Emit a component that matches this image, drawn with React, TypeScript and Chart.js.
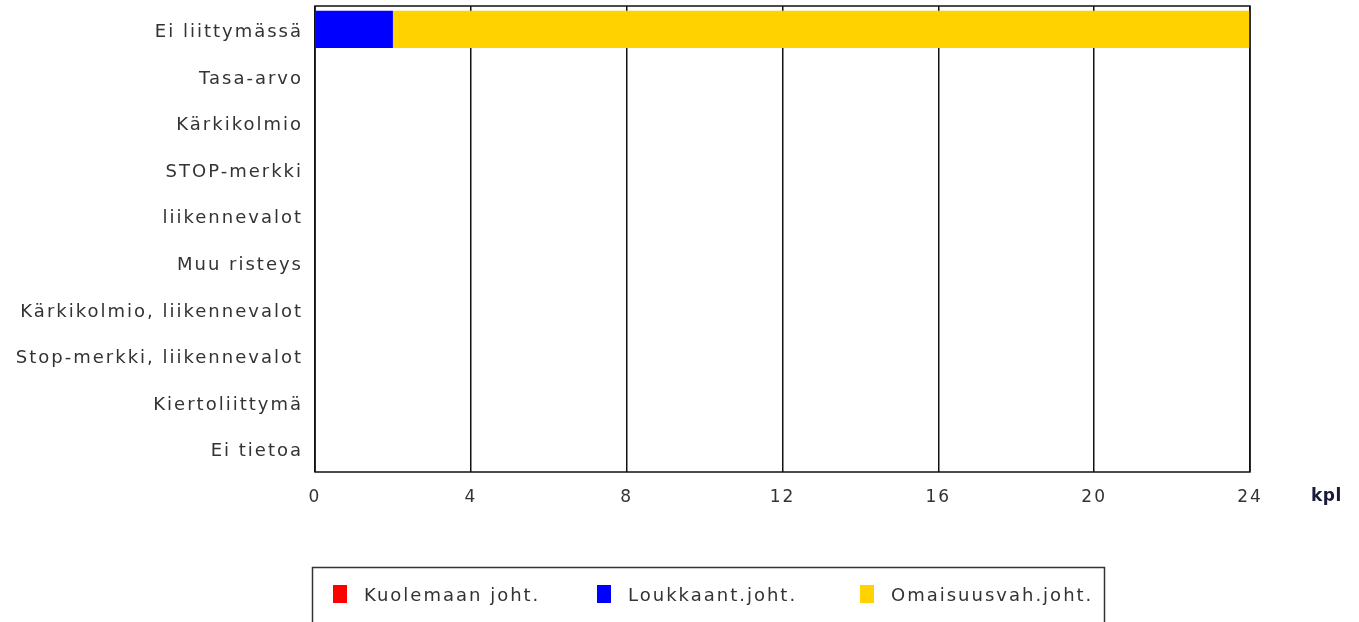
import React, { useEffect, useRef } from "react";
import { Chart, registerables } from "chart.js";

Chart.register(...registerables);

const categories = [
  "Ei liittymässä",
  "Tasa-arvo",
  "Kärkikolmio",
  "STOP-merkki",
  "liikennevalot",
  "Muu risteys",
  "Kärkikolmio, liikennevalot",
  "Stop-merkki, liikennevalot",
  "Kiertoliittymä",
  "Ei tietoa",
];
const kuolemaan = [0, 0, 0, 0, 0, 0, 0, 0, 0, 0];
const loukkaant = [2, 0, 0, 0, 0, 0, 0, 0, 0, 0];
const omaisuus = [22, 0, 0, 0, 0, 0, 0, 0, 0, 0];
const seriesNames = ["Kuolemaan joht.", "Loukkaant.joht.", "Omaisuusvah.joht."];
const seriesColors = ["#ff0000", "#0000ff", "#ffd200"];
const xUnit = "kpl";

const FONT = "'DejaVu Sans', Verdana, sans-serif";
const SPACING = "2px";

export default function App() {
  const ref = useRef<HTMLCanvasElement | null>(null);
  useEffect(() => {
    if (!ref.current) return;
    const framePlugin = {
      id: "frame",
      beforeDraw(chart: any) {
        (chart.ctx as any).letterSpacing = SPACING;
      },
      afterDraw(chart: any) {
        const { ctx, chartArea } = chart;
        ctx.save();
        ctx.strokeStyle = "#111";
        ctx.lineWidth = 1.5;
        ctx.strokeRect(chartArea.left, chartArea.top, chartArea.right - chartArea.left, chartArea.bottom - chartArea.top);
        // unit label
        ctx.fillStyle = "#1a1a3a";
        ctx.font = "bold 17px " + FONT;
        (ctx as any).letterSpacing = "0.5px";
        ctx.textAlign = "left";
        ctx.textBaseline = "middle";
        ctx.fillText(xUnit, 1311, 497);
        (ctx as any).letterSpacing = "2px";
        // legend box
        ctx.strokeStyle = "#333";
        ctx.lineWidth = 1.5;
        ctx.strokeRect(312.5, 567.5, 792, 80);
        const xs = [333, 597, 860];
        ctx.font = "18px " + FONT;
        ctx.textBaseline = "middle";
        seriesNames.forEach((n, i) => {
          ctx.fillStyle = seriesColors[i];
          ctx.fillRect(xs[i], 585, 14, 18);
          ctx.fillStyle = "#333";
          ctx.fillText(n, xs[i] + 31, 596);
        });
        ctx.restore();
      },
    };
    const chart = new Chart(ref.current, {
      type: "bar",
      data: {
        labels: categories,
        datasets: [
          { label: seriesNames[0], data: kuolemaan, backgroundColor: seriesColors[0] },
          { label: seriesNames[1], data: loukkaant, backgroundColor: seriesColors[1] },
          { label: seriesNames[2], data: omaisuus, backgroundColor: seriesColors[2] },
        ],
      },
      options: {
        indexAxis: "y",
        animation: false,
        responsive: false,
        maintainAspectRatio: false,
        layout: { padding: { top: 6, right: 109, bottom: 0, left: 0 } },
        datasets: { bar: { barPercentage: 0.8, categoryPercentage: 1 } },
        plugins: { legend: { display: false }, tooltip: { enabled: false } },
        scales: {
          x: {
            stacked: true,
            min: 0,
            max: 24,
            ticks: { stepSize: 4, color: "#333", font: { family: FONT, size: 17 }, padding: 15 },
            grid: { color: "#111", lineWidth: 1.5, drawTicks: false },
            border: { display: false },
            afterFit(scale: any) {
              scale.height = 150;
              scale.paddingLeft = 0;
              scale.paddingRight = 0;
            },
          },
          y: {
            stacked: true,
            ticks: { color: "#333", font: { family: FONT, size: 18 }, padding: 12, labelOffset: 3 },
            grid: { display: false, drawTicks: false },
            border: { display: false },
            afterFit(scale: any) {
              scale.width = 315;
              scale.paddingTop = 0;
              scale.paddingBottom = 0;
            },
          },
        },
      },
      plugins: [framePlugin],
    } as any);
    return () => chart.destroy();
  }, []);
  return (
    <canvas
      ref={ref}
      width={1359}
      height={622}
      style={{ position: "absolute", left: 0, top: 0, width: 1359, height: 622 }}
    />
  );
}
